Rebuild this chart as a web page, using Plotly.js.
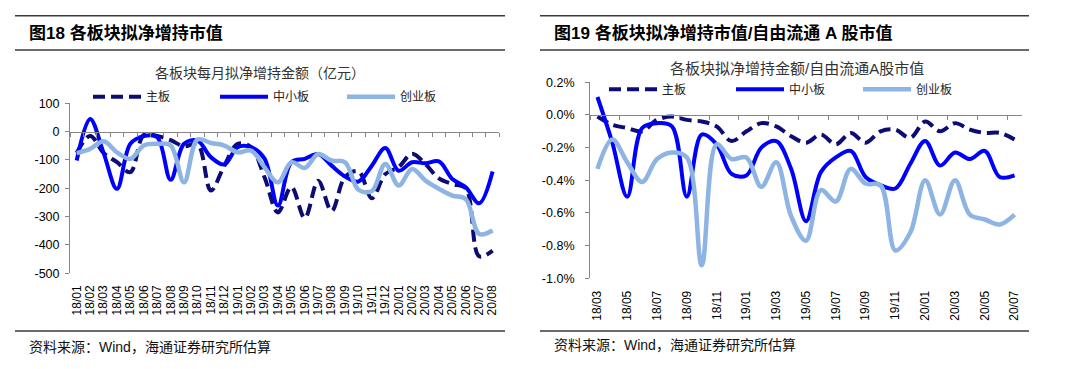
<!DOCTYPE html>
<html>
<head>
<meta charset="utf-8">
<script src="https://cdn.plot.ly/plotly-3.0.1.min.js"></script>
<style>
html,body{margin:0;padding:0;background:#ffffff;}
#chart{width:1080px;height:369px;}
</style>
</head>
<body>
<div id="chart"></div>
<script>
// ---------- data ----------
const seriesNames = ['主板', '中小板', '创业板'];

// Figure 18: monthly planned net increase of holdings, 亿元
const leftCategories = ['18/01','18/02','18/03','18/04','18/05','18/06','18/07','18/08','18/09','18/10','18/11','18/12',
  '19/01','19/02','19/03','19/04','19/05','19/06','19/07','19/08','19/09','19/10','19/11','19/12',
  '20/01','20/02','20/03','20/04','20/05','20/06','20/07','20/08'];
const leftMainBoard = [-75, -15, -75, -108, -143, -12, -15, -30, -52, -43, -208, -120,
  -43, -55, -161, -285, -195, -305, -173, -280, -160, -140, -235, -150,
  -125, -78, -115, -165, -185, -200, -440, -420];
const leftSmeBoard = [-102, 45, -75, -202, -43, -16, -20, -170, -43, -32, -90, -116,
  -55, -55, -95, -261, -108, -96, -79, -120, -158, -176, -120, -58,
  -138, -108, -112, -105, -167, -196, -253, -141];
const leftGemBoard = [-76, -61, -34, -73, -96, -49, -43, -49, -179, -28, -40, -49,
  -73, -67, -126, -179, -108, -128, -79, -102, -108, -205, -210, -114,
  -190, -132, -173, -202, -226, -238, -361, -349];
const leftYTicks = [100, 0, -100, -200, -300, -400, -500];

// Figure 19: planned net increase / free-float A-share market value, %
const rightCategories = ['18/03','18/04','18/05','18/06','18/07','18/08','18/09','18/10','18/11','18/12',
  '19/01','19/02','19/03','19/04','19/05','19/06','19/07','19/08','19/09','19/10','19/11','19/12',
  '20/01','20/02','20/03','20/04','20/05','20/06','20/07'];
const rightMainBoard = [-0.01, -0.06, -0.08, -0.10, -0.03, -0.01, -0.03, -0.04, -0.07, -0.16,
  -0.10, -0.05, -0.07, -0.13, -0.17, -0.12, -0.18, -0.11, -0.17, -0.10,
  -0.09, -0.14, -0.04, -0.10, -0.05, -0.09, -0.11, -0.11, -0.15];
const rightSmeBoard = [0.11, -0.17, -0.50, -0.08, -0.05, -0.07, -0.50, -0.12, -0.18, -0.36,
  -0.37, -0.20, -0.16, -0.33, -0.65, -0.35, -0.26, -0.22, -0.38, -0.43,
  -0.45, -0.30, -0.16, -0.31, -0.23, -0.27, -0.22, -0.38, -0.37];
const rightGemBoard = [-0.33, -0.15, -0.29, -0.41, -0.27, -0.23, -0.26, -0.92, -0.18, -0.27,
  -0.26, -0.44, -0.29, -0.62, -0.77, -0.46, -0.53, -0.33, -0.42, -0.43,
  -0.83, -0.72, -0.40, -0.61, -0.40, -0.61, -0.64, -0.67, -0.61];
const rightYTicks = [0.2, 0.0, -0.2, -0.4, -0.6, -0.8, -1.0];

// ---------- layout helpers ----------
const W = 1080, H = 369;
const px = v => v / W;
const py = v => 1 - v / H;

const COLORS = { main: '#0C0C74', sme: '#0000FF', gem: '#8DB4E2' };
const AXIS = '#868686';
const NUM_FONT = 'Liberation Sans, Arial, sans-serif';
const CJK_FONT = 'Noto Sans CJK SC, sans-serif';
const MIX_FONT = 'Liberation Sans, Noto Sans CJK SC, sans-serif';

const leftXDom = [px(70), px(499.3)];
const leftYDom = [py(273.3), py(103.3)];
const leftYRange = [-500, 100];
const rightXDom = [px(590), px(1022)];
const rightYDom = [py(278.3), py(82.3)];
const rightYRange = [-1.0, 0.2];

function zeroPos(dom, range) {
  return dom[0] + (0 - range[0]) / (range[1] - range[0]) * (dom[1] - dom[0]);
}
const idx = arr => arr.map((_, i) => i);

function lineTrace(xs, ys, name, color, dash, width, xa, ya, legend) {
  return {
    type: 'scatter', mode: 'lines', x: xs, y: ys, name: name,
    xaxis: xa, yaxis: ya, legend: legend,
    line: { color: color, width: width, dash: dash, shape: 'spline', smoothing: 1 },
    hoverinfo: 'skip'
  };
}

const lx = idx(leftCategories);
const rx = idx(rightCategories);

const data = [
  lineTrace(lx, leftMainBoard, seriesNames[0], COLORS.main, '12px,6px', 4, 'x', 'y', 'legend'),
  lineTrace(lx, leftSmeBoard, seriesNames[1], COLORS.sme, 'solid', 4, 'x', 'y', 'legend'),
  lineTrace(lx, leftGemBoard, seriesNames[2], COLORS.gem, 'solid', 4.5, 'x', 'y', 'legend'),
  lineTrace(rx, rightMainBoard, seriesNames[0], COLORS.main, '12px,6px', 4, 'x2', 'y2', 'legend2'),
  lineTrace(rx, rightSmeBoard, seriesNames[1], COLORS.sme, 'solid', 4, 'x2', 'y2', 'legend2'),
  lineTrace(rx, rightGemBoard, seriesNames[2], COLORS.gem, 'solid', 4.5, 'x2', 'y2', 'legend2')
];

function catXAxis(dom, cats, step, yDom, yRange, labelGap) {
  const vals = idx(cats).filter(i => i % step === 0);
  return {
    domain: dom, type: 'linear', range: [-0.5, cats.length - 0.5],
    anchor: 'free', position: zeroPos(yDom, yRange),
    showline: true, linecolor: AXIS, linewidth: 1,
    showgrid: false, zeroline: false,
    tickmode: 'array', tickvals: vals, ticktext: vals.map(i => cats[i]),
    tickangle: -90, ticks: 'outside', ticklen: labelGap, tickcolor: 'rgba(0,0,0,0)',
    tickfont: { family: NUM_FONT, size: 12, color: '#000000' },
    minor: { tickmode: 'linear', tick0: -0.5, dtick: step, ticks: 'outside', ticklen: 4, tickcolor: AXIS, tickwidth: 1, showgrid: false },
    fixedrange: true
  };
}

function valYAxis(dom, range, ticks, fmt, anchor, standoff) {
  return {
    domain: dom, range: range, anchor: anchor,
    showline: true, linecolor: AXIS, linewidth: 1,
    showgrid: false, zeroline: false,
    tickmode: 'array', tickvals: ticks, ticktext: ticks.map(fmt),
    ticks: 'outside', ticklen: 4, tickcolor: AXIS,
    ticklabelstandoff: standoff,
    tickfont: { family: NUM_FONT, size: 12.5, color: '#000000' },
    fixedrange: true
  };
}

function text(str, x, y, size, opts) {
  return Object.assign({
    text: str, xref: 'paper', yref: 'paper', x: px(x), y: py(y),
    xanchor: 'left', yanchor: 'middle', showarrow: false,
    font: { family: MIX_FONT, size: size, color: '#000000' }
  }, opts || {});
}

function rule(x0, x1, y) {
  return { type: 'line', xref: 'paper', yref: 'paper', x0: px(x0), x1: px(x1), y0: py(y), y1: py(y),
    line: { color: '#3a3a3a', width: 1.5 } };
}

const legendBase = {
  orientation: 'h', xanchor: 'left', yanchor: 'middle',
  bgcolor: 'rgba(0,0,0,0)', borderwidth: 0,
  font: { family: CJK_FONT, size: 12, color: '#222222' },
  entrywidthmode: 'pixels', entrywidth: 64, itemwidth: 48, traceorder: 'normal'
};

const layout = {
  width: W, height: H,
  margin: { l: 0, r: 0, t: 0, b: 0, pad: 0 },
  paper_bgcolor: '#ffffff', plot_bgcolor: 'rgba(0,0,0,0)',
  showlegend: true,
  xaxis: catXAxis(leftXDom, leftCategories, 1, leftYDom, leftYRange, 148),
  yaxis: valYAxis(leftYDom, leftYRange, leftYTicks, v => String(v), 'x', 3),
  xaxis2: catXAxis(rightXDom, rightCategories, 2, rightYDom, rightYRange, 170),
  yaxis2: valYAxis(rightYDom, rightYRange, rightYTicks, v => v.toFixed(1) + '%', 'x2', 8),
  legend: Object.assign({}, legendBase, { x: px(88), y: py(96.7) }),
  legend2: Object.assign({}, legendBase, { x: px(604), y: py(89.3) }),
  shapes: [
    rule(15, 505, 15.7), rule(15, 505, 50), rule(15, 505, 331),
    rule(540, 1029, 15.7), rule(540, 1029, 50), rule(540, 1029, 331)
  ],
  annotations: [
    text('<b>图18 各板块拟净增持市值</b>', 27, 33, 17),
    text('<b>图19 各板块拟净增持市值/自由流通 A 股市值</b>', 552, 33, 17),
    text('各板块每月拟净增持金额（亿元）', 260, 71.7, 14, { xanchor: 'center', font: { family: CJK_FONT, size: 14, color: '#333333' } }),
    text('各板块拟净增持金额/自由流通A股市值', 796.7, 68.3, 15, { xanchor: 'center', font: { family: MIX_FONT, size: 15, color: '#333333' } }),
    text('资料来源：Wind，海通证券研究所估算', 27, 346.7, 14, { font: { family: MIX_FONT, size: 14, color: '#111111' } }),
    text('资料来源：Wind，海通证券研究所估算', 552, 345, 14, { font: { family: MIX_FONT, size: 14, color: '#111111' } })
  ]
};

Plotly.newPlot('chart', data, layout, { staticPlot: true, displayModeBar: false });
</script>
</body>
</html>
